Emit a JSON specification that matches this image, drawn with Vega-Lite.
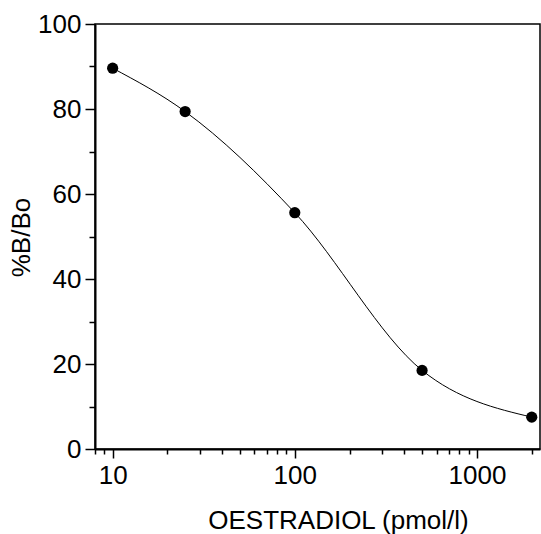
{
  "$schema": "https://vega.github.io/schema/vega-lite/v6.json",
  "width": 445,
  "height": 425,
  "autosize": "none",
  "padding": {"left": 95, "top": 24, "right": 1, "bottom": 85},
  "background": "white",
  "config": {
    "view": {"stroke": "black", "strokeWidth": 1.5},
    "axis": {
      "grid": false,
      "domainColor": "black",
      "domainWidth": 2,
      "tickColor": "black",
      "tickWidth": 1.5,
      "labelColor": "black",
      "labelFont": "Liberation Sans",
      "labelFontSize": 26,
      "labelOverlap": false,
      "labelFlush": false,
      "titleColor": "black",
      "titleFont": "Liberation Sans",
      "titleFontSize": 26,
      "titleFontWeight": "normal"
    }
  },
  "data": {
    "values": [
      {"conc": 10, "bb": 89.6},
      {"conc": 25, "bb": 79.4},
      {"conc": 100, "bb": 55.6},
      {"conc": 500, "bb": 18.5},
      {"conc": 2000, "bb": 7.5}
    ]
  },
  "encoding": {
    "x": {
      "field": "conc",
      "type": "quantitative",
      "scale": {"type": "log", "domain": [8, 2220], "nice": false},
      "axis": {
        "title": "OESTRADIOL (pmol/l)",
        "values": [8, 9, 10, 20, 30, 40, 50, 60, 70, 80, 90, 100, 200, 300, 400, 500, 600, 700, 800, 900, 1000, 2000],
        "labelExpr": "(datum.value == 10 || datum.value == 100 || datum.value == 1000) ? ('' + datum.value) : ''",
        "tickSize": {"condition": {"test": "datum.value == 10 || datum.value == 100 || datum.value == 1000", "value": 9}, "value": 5},
        "labelPadding": 4,
        "titleX": 243,
        "titleY": 79,
        "titleAlign": "center",
        "titleBaseline": "alphabetic",
        "titleAnchor": null
      }
    },
    "y": {
      "field": "bb",
      "type": "quantitative",
      "scale": {"domain": [0, 100], "nice": false},
      "axis": {
        "title": "%B/Bo",
        "values": [0, 10, 20, 30, 40, 50, 60, 70, 80, 90, 100],
        "labelExpr": "datum.value % 20 == 0 ? datum.label : ''",
        "tickSize": {"condition": {"test": "datum.value % 20 == 0", "value": 10}, "value": 6},
        "labelPadding": 4,
        "titleAngle": -90,
        "titleX": -66,
        "titleY": 213,
        "titleAlign": "center",
        "titleBaseline": "alphabetic"
      }
    }
  },
  "layer": [
    {
      "mark": {"type": "line", "color": "black", "strokeWidth": 1, "interpolate": "monotone"}
    },
    {
      "mark": {"type": "circle", "color": "black", "opacity": 1, "size": 125}
    }
  ]
}
